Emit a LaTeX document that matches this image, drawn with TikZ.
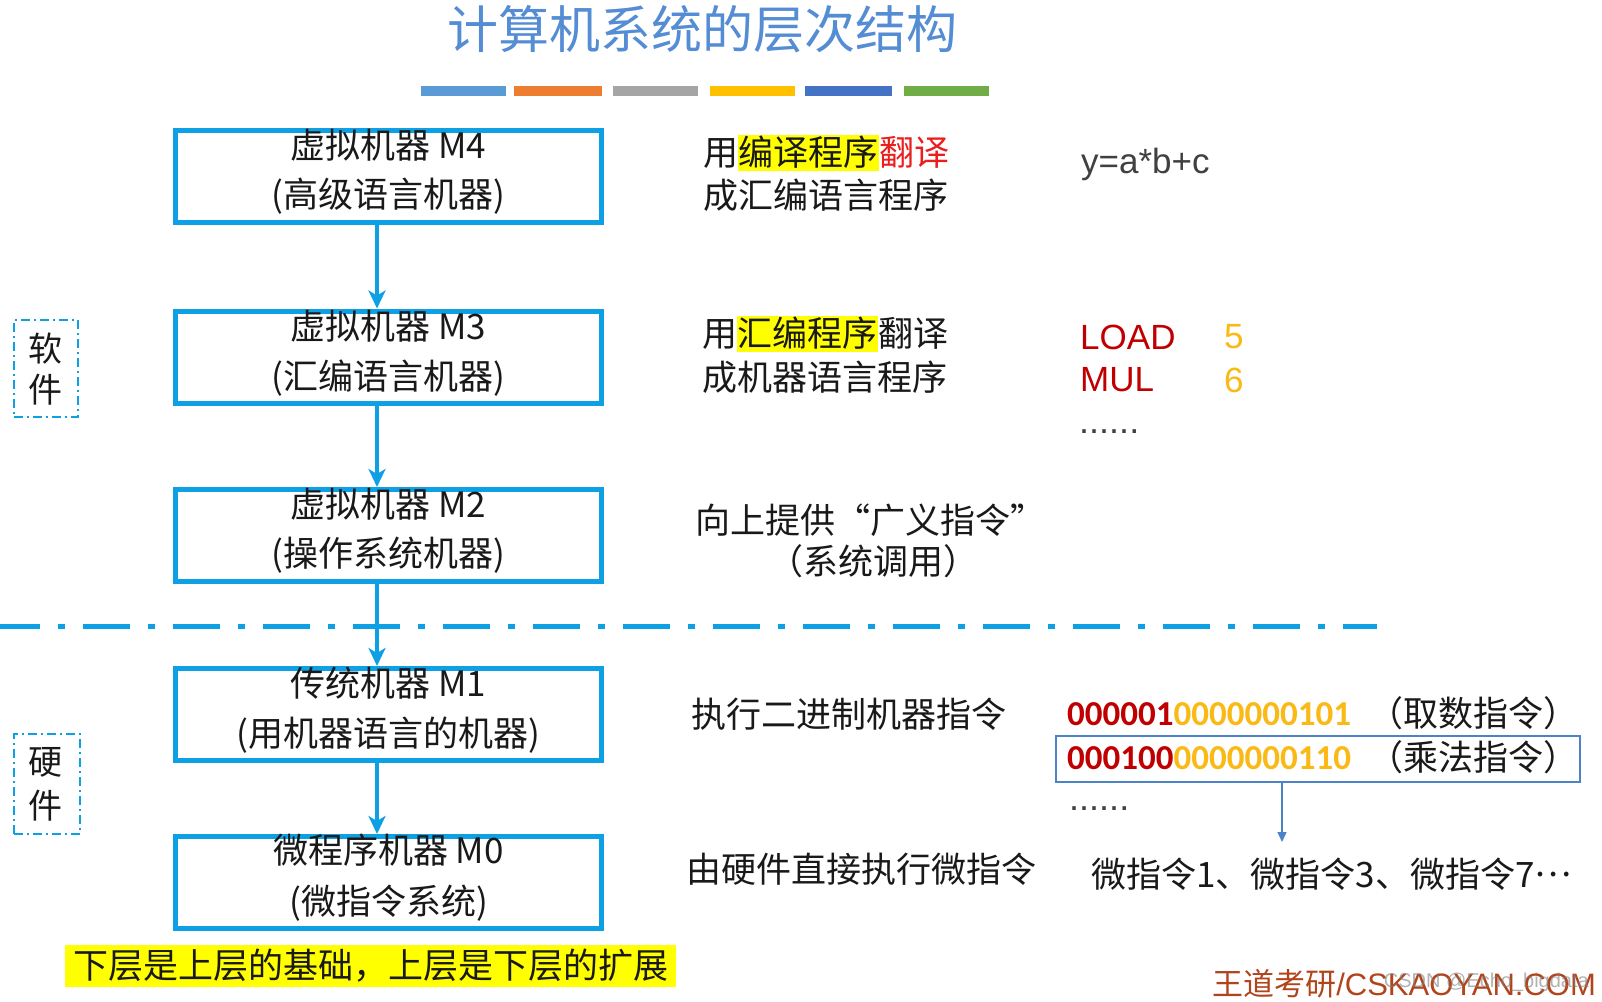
\documentclass[tikz,border=0pt]{standalone}
\usepackage{fontspec}
\setmainfont{Liberation Sans}
\newfontfamily\cjk{Noto Sans CJK SC}
\newfontfamily\cali{Carlito}
\usetikzlibrary{arrows.meta,calc}
\definecolor{boxblue}{RGB}{14,160,228}
\definecolor{titleblue}{RGB}{84,141,212}
\definecolor{barA}{HTML}{5B9BD5}
\definecolor{barB}{HTML}{ED7D31}
\definecolor{barC}{HTML}{A5A5A5}
\definecolor{barD}{HTML}{FFC000}
\definecolor{barE}{HTML}{4472C4}
\definecolor{barF}{HTML}{70AD47}
\definecolor{hlyellow}{RGB}{255,255,0}
\definecolor{tred}{RGB}{235,30,30}
\definecolor{dred}{RGB}{192,0,0}
\definecolor{gold}{RGB}{250,185,20}
\definecolor{thinblue}{RGB}{75,130,200}
\definecolor{wdbrown}{RGB}{178,68,28}
\definecolor{ink}{RGB}{25,25,25}
\definecolor{dgray}{RGB}{64,64,64}
\newcommand\cstrut{\rule[-0.15em]{0pt}{1.0em}}
\newcommand\hlt[1]{{\setlength{\fboxsep}{0.5pt}\colorbox{hlyellow}{\cstrut#1}}}
\begin{document}
\begin{tikzpicture}[x=1pt,y=-1pt,
  machine/.style={draw=boxblue, line width=5pt, minimum width=426pt, minimum height=92pt, inner sep=0pt},
  bt/.style={font=\cjk\fontsize{35}{40}\selectfont, text=ink, inner sep=0pt, execute at begin node=\cstrut},
  rt/.style={font=\cjk\fontsize{35}{42}\selectfont, text=ink, inner sep=0pt, anchor=west, execute at begin node=\cstrut},
  conn/.style={draw=boxblue, line width=4.5pt, -{Stealth[length=18pt,width=17pt,inset=5pt]}},
  sidebox/.style={draw=boxblue, line width=1.6pt, dash pattern=on 9pt off 4pt on 2pt off 4pt, minimum width=64pt, minimum height=97pt, inner sep=0pt},
  sidetext/.style={font=\cjk\fontsize{34}{40}\selectfont, text=ink, inner sep=0pt},
  bar/.style={minimum height=10pt, inner sep=0pt, draw=none},
  lat/.style={font=\fontsize{35}{42}\selectfont, inner sep=0pt, anchor=west},
  bin/.style={font=\cali\bfseries\fontsize{35}{42}\selectfont, inner sep=0pt, anchor=west},
]
\useasboundingbox[fill=white] (0,0) rectangle (1602,1001);

% title and colour bars
\node[font=\cjk\fontsize{51}{58}\selectfont, text=titleblue, inner sep=0pt] (title) at (702,29) {计算机系统的层次结构};
\node[bar, fill=barA, minimum width=85pt] (b1) at (463.5,91) {};
\node[bar, fill=barB, minimum width=88pt] (b2) at (558,91) {};
\node[bar, fill=barC, minimum width=85pt] (b3) at (655.5,91) {};
\node[bar, fill=barD, minimum width=85pt] (b4) at (752.5,91) {};
\node[bar, fill=barE, minimum width=87pt] (b5) at (848.5,91) {};
\node[bar, fill=barF, minimum width=85pt] (b6) at (946.5,91) {};

% dash-dot separator
\coordinate (sepL) at (0,626);
\coordinate (sepR) at (1377,626);
\draw[boxblue, line width=5pt, dash pattern=on 47pt off 18pt on 7pt off 18pt, dash phase=7pt] (sepL) -- (sepR);

% machine boxes
\node[machine] (m4) at (388.5,176.5) {};
\node[machine] (m3) at (388.5,357) {};
\node[machine] (m2) at (388.5,535.5) {};
\node[machine] (m1) at (388.5,714.5) {};
\node[machine] (m0) at (388.5,882.5) {};

\node[bt] (m4a) at ($(m4.center)+(0,-30)$) {虚拟机器 M4};
\node[bt] (m4b) at ($(m4.center)+(0,20)$) {(高级语言机器)};
\node[bt] (m3a) at ($(m3.center)+(0,-30)$) {虚拟机器 M3};
\node[bt] (m3b) at ($(m3.center)+(0,21)$) {(汇编语言机器)};
\node[bt] (m2a) at ($(m2.center)+(0,-30)$) {虚拟机器 M2};
\node[bt] (m2b) at ($(m2.center)+(0,20)$) {(操作系统机器)};
\node[bt] (m1a) at ($(m1.center)+(0,-30)$) {传统机器 M1};
\node[bt] (m1b) at ($(m1.center)+(0,21)$) {(用机器语言的机器)};
\node[bt] (m0a) at ($(m0.center)+(0,-31)$) {微程序机器 M0};
\node[bt] (m0b) at ($(m0.center)+(0,21)$) {(微指令系统)};

% connectors
\coordinate (ax) at (377,0);
\draw[conn] (m4.south -| ax) -- (m3.north -| ax);
\draw[conn] (m3.south -| ax) -- (m2.north -| ax);
\draw[conn] (m2.south -| ax) -- (m1.north -| ax);
\draw[conn] (m1.south -| ax) -- (m0.north -| ax);

% side labels
\node[sidebox] (sw) at (46,368.5) {};
\node[sidetext] (sw1) at (45,349) {软};
\node[sidetext] (sw2) at (45,390) {件};
\node[sidebox, minimum width=66pt, minimum height=100pt] (hw) at (47,784) {};
\node[sidetext] (hw1) at (45,762) {硬};
\node[sidetext] (hw2) at (45,806) {件};

% right descriptions
\node[rt] (d4a) at (703,153) {用\hlt{编译程序}{\color{tred}翻译}};
\node[rt] (d4b) at (703,196) {成汇编语言程序};
\node[rt] (d3a) at (702,334) {用\hlt{汇编程序}翻译};
\node[rt] (d3b) at (702,378) {成机器语言程序};
\node[rt, anchor=center] (d2a) at (870,521) {向上提供“广义指令”};
\node[rt, anchor=center] (d2b) at (873,562) {（系统调用）};
\node[rt] (d1) at (691,715) {执行二进制机器指令};
\node[rt] (d0) at (686,870) {由硬件直接执行微指令};

% examples
\node[lat, text=dgray] (ex4) at (1081,164) {y=a*b+c};
\node[lat, text=dred] (ld) at (1080,337) {LOAD};
\node[lat, text=gold] (ld5) at (1224,337) {5};
\node[lat, text=dgray, font=\fontsize{36}{40}\selectfont] (dots3) at (1079,432) {......};
\node[lat, text=dred] (mu) at (1080,380) {MUL};
\node[lat, text=gold] (mu6) at (1224,380) {6};

\node[draw=thinblue, line width=1.3pt, minimum width=524pt, minimum height=46pt, inner sep=0pt] (selbox) at (1318,759) {};
\node[bin] (bin1) at (1067,714) {{\color{dred}000001}{\color{gold}0000000101}};
\node[rt, font=\cjk\fontsize{35}{40}\selectfont] (bin1t) at (1368,714) {（取数指令）};
\node[bin] (bin2) at (1067,758) {{\color{dred}000100}{\color{gold}0000000110}};
\node[rt, font=\cjk\fontsize{35}{40}\selectfont] (bin2t) at (1368,758) {（乘法指令）};
\node[lat, text=dgray, font=\fontsize{36}{40}\selectfont] (dots1) at (1069,809) {......};
\coordinate (micro) at (1282,842);
\draw[thinblue, line width=1.3pt, -{Triangle[length=10pt,width=9pt]}] (selbox.south -| micro) -- (micro);
\node[rt] (mi) at (1091,875) {微指令1、微指令3、微指令7\raisebox{0.3em}{⋯}};

% bottom note
\node[fill=hlyellow, minimum width=611pt, minimum height=42pt, inner sep=0pt, font=\cjk\fontsize{35}{42}\selectfont, text=ink] (note) at (370.5,966) {下层是上层的基础，上层是下层的扩展};

% watermarks
\node[font=\fontsize{31}{36}\selectfont, text=wdbrown, inner sep=0pt, anchor=east] (wd) at (1596,984) {{\cjk 王道考研}/CSKAOYAN.COM};
\node[font=\fontsize{20}{24}\selectfont, text=gray, opacity=0.6, inner sep=0pt, anchor=east] (csdn) at (1589,982) {CSDN @Echo\_bigdata};
\end{tikzpicture}
\end{document}
